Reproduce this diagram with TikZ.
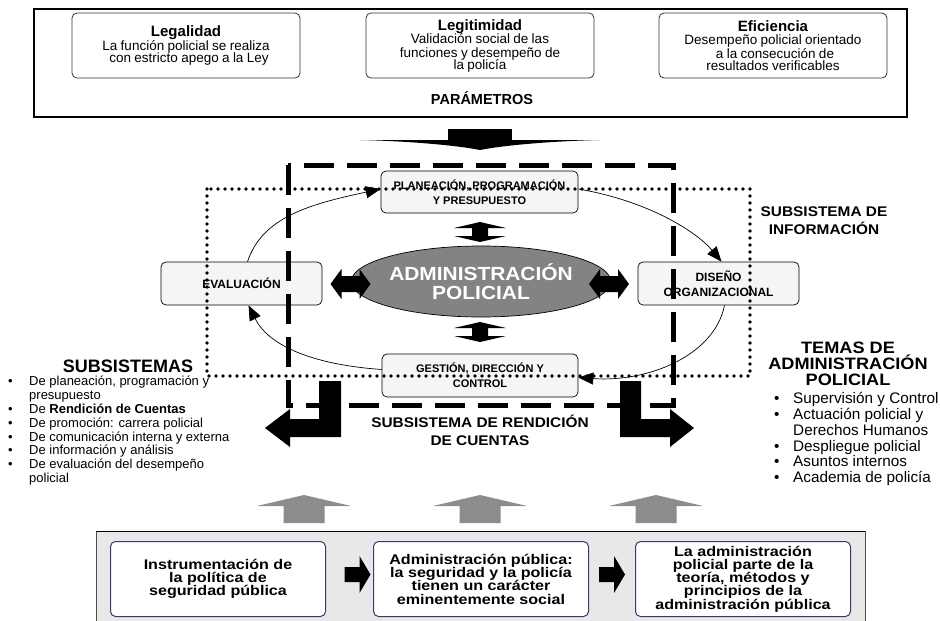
\documentclass[tikz,border=0pt]{standalone}
\usepackage{fontspec}
\setmainfont{Liberation Sans}
\newfontfamily\widesans[FakeStretch=1.1]{Liberation Sans}
\newfontfamily\bandsans[FakeStretch=1.15]{Liberation Sans}
\usetikzlibrary{shapes.geometric,arrows.meta,calc}

\definecolor{ellgray}{HTML}{838383}
\definecolor{boxfill}{HTML}{F5F5F5}
\definecolor{bandgray}{HTML}{E8E8E8}
\definecolor{navy}{HTML}{363A6E}
\definecolor{upgray}{HTML}{8C8C8C}

\newcommand\ptitlefont{\fontsize{15}{15}\selectfont\bfseries}
\newcommand\ptextfont{\fontsize{13.5}{13.5}\selectfont}
\newcommand\headfont{\widesans\fontsize{14}{18}\selectfont\bfseries}

\begin{document}
\begin{tikzpicture}[x=1pt,y=-1pt,
  tightlines/.style={execute at begin node={\lineskiplimit=-50pt}},
  parambox/.style={tightlines, draw=black!80, line width=0.8pt, rounded corners=5pt, fill=white,
    minimum width=228pt, minimum height=65pt, text width=222pt, align=center, inner sep=0pt},
  cyclebox/.style={draw, line width=0.7pt, rounded corners=5pt, fill=boxfill,
    align=center, inner sep=0pt, font=\fontsize{11}{15}\selectfont\bfseries},
  flowbox/.style={tightlines, draw=navy, line width=1pt, rounded corners=5pt, fill=white,
    minimum width=215pt, minimum height=75pt, align=center, inner sep=0pt,
    font=\bandsans\fontsize{14}{13.3}\selectfont\bfseries},
  cycarrow/.style={line width=0.7pt, -{Triangle[length=15pt,width=12pt]}},
  dotframe/.style={line width=3.6pt, line cap=round, dash pattern=on 0pt off 7pt},
  dashframe/.style={line width=5pt, dash pattern=on 30pt off 13pt},
  vdarrow/.pic={\fill (-8,-4) -- (-26,-4) -- (0,-10) -- (26,-4) -- (8,-4) -- (8,4)
      -- (26,4) -- (0,10) -- (-26,4) -- (-8,4) -- cycle;},
  hdarrow/.pic={\fill (-20,0) -- (-9,-15) -- (-9,-8) -- (9,-8) -- (9,-15) -- (20,0)
      -- (9,15) -- (9,8) -- (-9,8) -- (-9,15) -- cycle;},
  blockarrow/.pic={\fill (-13,-7.5) -- (2,-7.5) -- (2,-18.5) -- (13,0) -- (2,18.5) -- (2,7.5)
      -- (-13,7.5) -- cycle;},
  uparrow/.pic={\fill[upgray] (0,0) -- (47,11) -- (20.5,11) -- (20.5,28) -- (-20.5,28)
      -- (-20.5,11) -- (-47,11) -- cycle;}
]
\useasboundingbox (0,0) rectangle (940,621);

% ---------- parameters ----------
\node[draw, line width=2pt, minimum width=873pt, minimum height=108pt, inner sep=0pt,
  anchor=north west] (frame) at (33,8) {};
\node[parambox] (legal) at (186,45.5)
  {{\ptitlefont Legalidad\par}\ptextfont La función policial se realiza\\
   \hspace*{6pt}con estricto apego a la Ley};
\node[parambox] (legit) at (480,45.5)
  {{\ptitlefont Legitimidad\par}\ptextfont Validación social de las\\
   funciones y desempeño de\\ la policía};
\node[parambox] (efic) at (773,45.5)
  {{\ptitlefont Eficiencia\par}\ptextfont Desempeño policial orientado\\
   \hspace*{4pt}a la consecución de\\ resultados verificables};
\node[font=\fontsize{14.5}{15}\selectfont\bfseries] (param) at (482,98) {PARÁMETROS};

% wide arrow pointing down from the parameters
\fill (448,129) rectangle (512,140.5);
\fill (360,140) -- (600,140) .. controls (555,141) and (505,145) .. (480,150)
  .. controls (455,145) and (405,141) .. (360,140) -- cycle;

% ---------- administration cycle ----------
\node[tightlines, ellipse, draw, line width=0.7pt, fill=ellgray, minimum width=206pt, minimum height=71pt,
  inner sep=0pt, align=center, text=white,
  font=\widesans\fontsize{19}{19.5}\selectfont\bfseries] (adm) at (481,281.5)
  {ADMINISTRACIÓN\\POLICIAL};
\node[cyclebox, minimum width=197pt, minimum height=42pt] (plan) at (479.5,192)
  {PLANEACIÓN, PROGRAMACIÓN\\Y PRESUPUESTO};
\node[cyclebox, minimum width=161pt, minimum height=43pt,
  font=\fontsize{12}{15}\selectfont\bfseries] (eval) at (241.5,283.5) {EVALUACIÓN};
\node[cyclebox, minimum width=161pt, minimum height=43pt,
  font=\fontsize{12}{15}\selectfont\bfseries] (dis) at (718.5,283.5) {DISEÑO\\ORGANIZACIONAL};
\node[cyclebox, minimum width=196pt, minimum height=43pt] (gest) at (480,375.5)
  {GESTIÓN, DIRECCIÓN Y\\CONTROL};

% two-way links between the core and the four functions
\pic at (480,232) {vdarrow};
\pic at (480,332) {vdarrow};
\pic at (350.5,284) {hdarrow};
\pic at (609,284) {hdarrow};

% cycle of the four functions
\draw[cycarrow] ([xshift=6pt]eval.north) .. controls +(15,-45) and +(-70,15) .. ([yshift=3pt]plan.west);
\draw[cycarrow] ([yshift=3pt]plan.east) .. controls +(70,12) and +(-25,-30) .. ([xshift=3pt]dis.north);
\draw[cycarrow] ([xshift=6pt]dis.south) .. controls +(-10,50) and +(70,5) .. ([yshift=-2pt]gest.east);
\draw[cycarrow] ([yshift=6pt]gest.west) .. controls +(-70,-5) and +(20,40) .. ([xshift=7pt]eval.south);

% subsystem frames
\draw[dashframe] (288,165) rectangle (673,405);
\draw[dotframe] (207,189) rectangle (750,376);

\node[font=\headfont, align=center] (info) at (824,221) {SUBSISTEMA DE\\INFORMACIÓN};
\node[font=\headfont, align=center] (rend) at (480,430) {SUBSISTEMA DE RENDICIÓN\\DE CUENTAS};

% accountability outputs
\fill (319,381) -- (341,381) -- (341,437) -- (290,437) -- (290,447) -- (265,428)
  -- (290,409) -- (290,419) -- (319,419) -- cycle;
\fill (620,381) -- (641,381) -- (641,419) -- (670,419) -- (670,409) -- (694,428)
  -- (670,447) -- (670,437) -- (620,437) -- cycle;

% ---------- side lists ----------
\node[font=\fontsize{18}{18}\selectfont\bfseries] (substitle) at (128,366) {SUBSISTEMAS};
\node[anchor=north west, inner sep=0pt, font=\fontsize{13}{13.9}\selectfont] (sublist) at (4,375.5)
  {\begin{tabular}{@{}p{25pt}@{}l@{}}
   \hspace{4pt}• & De planeación, programación y\\
   & presupuesto\\
   \hspace{4pt}• & De \textbf{Rendición de Cuentas}\\
   \hspace{4pt}• & De promoción: carrera policial\\
   \hspace{4pt}• & De comunicación interna y externa\\
   \hspace{4pt}• & De información y análisis\\
   \hspace{4pt}• & De evaluación del desempeño\\
   & policial
   \end{tabular}};

\node[tightlines, font=\widesans\fontsize{16.5}{16}\selectfont\bfseries, align=center] (temastitle) at (848,364)
  {TEMAS DE\\ADMINISTRACIÓN\\POLICIAL};
\node[anchor=north west, inner sep=0pt, font=\fontsize{15.3}{15.8}\selectfont] (temaslist) at (770,392)
  {\begin{tabular}{@{}p{23pt}@{}l@{}}
   \hspace{4pt}• & Supervisión y Control\\
   \hspace{4pt}• & Actuación policial y\\
   & Derechos Humanos\\
   \hspace{4pt}• & Despliegue policial\\
   \hspace{4pt}• & Asuntos internos\\
   \hspace{4pt}• & Academia de policía
   \end{tabular}};

% ---------- foundations ----------
\pic at (304,495) {uparrow};
\pic at (480,495) {uparrow};
\pic at (656,495) {uparrow};

\draw[fill=bandgray, draw=black!70, line width=0.6pt] (96,531) rectangle (865,640);
\draw[line width=1pt] (96,531) -- (865,531);
\node[flowbox] (f1) at (218,579) {Instrumentación de\\la política de\\seguridad pública};
\node[flowbox] (f2) at (481,579) {Administración pública:\\la seguridad y la policía\\tienen un carácter\\eminentemente social};
\node[flowbox] (f3) at (743,579) {La administración\\policial parte de la\\teoría, métodos y\\principios de la\\administración pública};
\pic at ($(f1.east)!0.5!(f2.west)+(8,-4.5)$) {blockarrow};
\pic at ($(f2.east)!0.5!(f3.west)+(0,-4.5)$) {blockarrow};
\end{tikzpicture}
\end{document}
